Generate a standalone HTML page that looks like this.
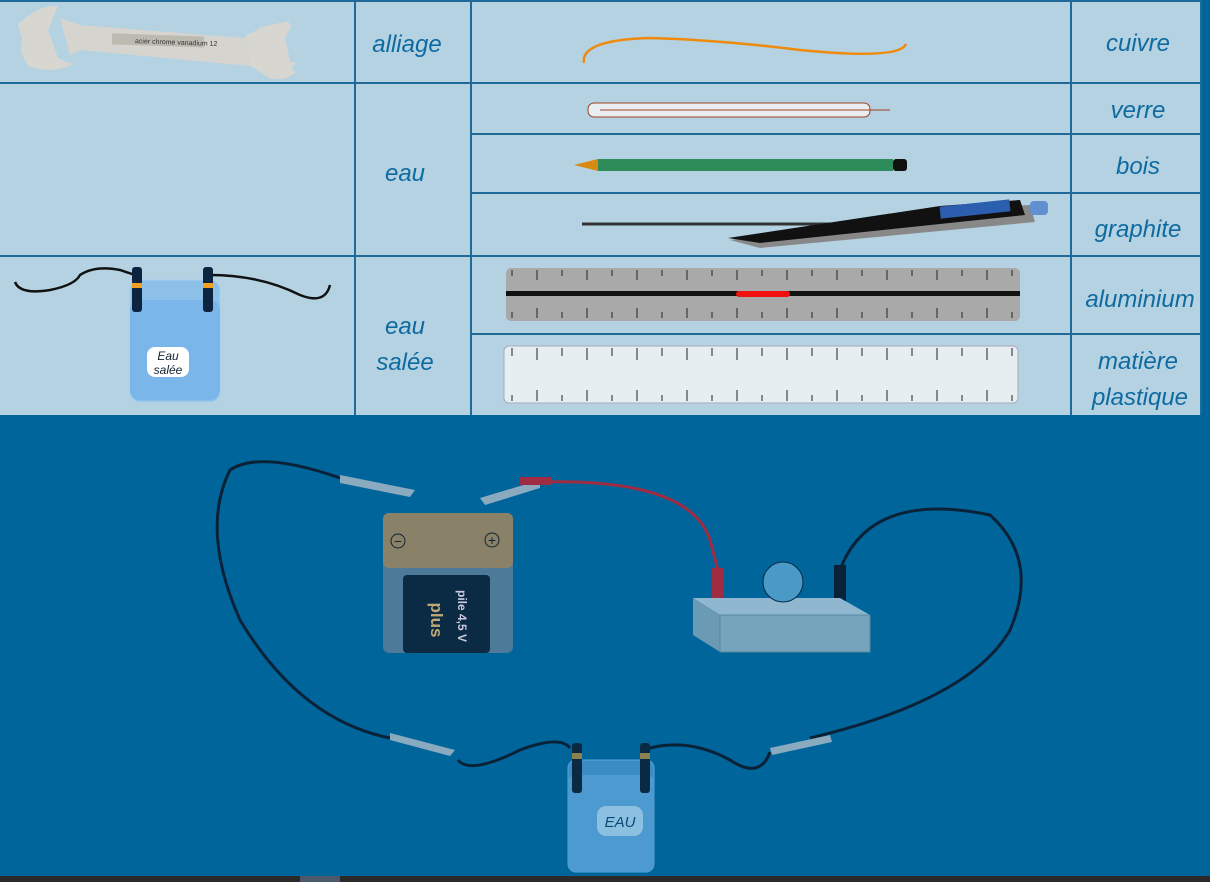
<!DOCTYPE html>
<html><head><meta charset="utf-8"><style>
html,body{margin:0;padding:0;width:1210px;height:882px;overflow:hidden;background:#00659b}
svg{display:block}
.t{font-family:"Liberation Sans",sans-serif;font-style:italic;fill:#0f6aa0;font-size:24px}
</style></head><body>
<svg width="1210" height="882" viewBox="0 0 1210 882">
<rect x="0" y="0" width="1202" height="415" fill="#b4d2e2"/>
<rect x="1202" y="0" width="8" height="415" fill="#00659b"/>
<g stroke="#1f6a98" stroke-width="2" fill="none">
<line x1="0" y1="1" x2="1202" y2="1"/>
<line x1="0" y1="83" x2="1202" y2="83"/>
<line x1="0" y1="256" x2="1202" y2="256"/>
<line x1="471" y1="134" x2="1202" y2="134"/>
<line x1="471" y1="193" x2="1202" y2="193"/>
<line x1="471" y1="334" x2="1202" y2="334"/>
<line x1="355" y1="0" x2="355" y2="415"/>
<line x1="471" y1="0" x2="471" y2="415"/>
<line x1="1071" y1="0" x2="1071" y2="415"/>
<line x1="1201" y1="0" x2="1201" y2="415"/>
</g>
<text class="t" x="407" y="52" text-anchor="middle">alliage</text>
<text class="t" x="405" y="181" text-anchor="middle">eau</text>
<text class="t" x="405" y="334" text-anchor="middle">eau</text>
<text class="t" x="405" y="370" text-anchor="middle">salée</text>
<text class="t" x="1138" y="51" text-anchor="middle">cuivre</text>
<text class="t" x="1138" y="118" text-anchor="middle">verre</text>
<text class="t" x="1138" y="174" text-anchor="middle">bois</text>
<text class="t" x="1138" y="237" text-anchor="middle">graphite</text>
<text class="t" x="1140" y="307" text-anchor="middle">aluminium</text>
<text class="t" x="1138" y="369" text-anchor="middle">matière</text>
<text class="t" x="1140" y="405" text-anchor="middle">plastique</text>
<!-- wrench -->
<path d="M18 24 Q40 4 58 6 L48 30 L58 58 L72 64 Q55 75 28 66 Q18 50 22 40 Z" fill="#d8d6d0"/>
<path d="M60 18 L80 25 L245 38 L250 66 L80 50 L70 55 Z" fill="#d6d4cf"/>
<path d="M245 36 Q275 20 292 25 L285 38 L292 70 L296 72 Q285 82 270 78 L250 66 Z" fill="#d8d6d0"/>
<path d="M258 28 Q290 20 290 22 L268 42 L270 63 L296 62 Q285 82 268 78 Z" fill="#d8d6d0"/>
<rect x="112" y="35" width="92" height="11" fill="#bdbab2" transform="rotate(2 160 40)"/>
<text x="135" y="44" font-family="Liberation Sans" font-size="7" fill="#333" transform="rotate(2 160 40)">acier chrome vanadium  12</text>
<!-- copper wire -->
<path d="M584 63 Q580 40 650 38 Q720 40 800 50 Q900 60 906 44" stroke="#ef8a0c" stroke-width="2.5" fill="none"/>
<!-- thermometer -->
<rect x="588" y="103" width="282" height="14" rx="6" fill="#e8eef2" stroke="#a04020"/>
<line x1="600" y1="110" x2="890" y2="110" stroke="#a04020"/>
<!-- pencil -->
<polygon points="574,165 598,159 598,171" fill="#d88a10"/>
<rect x="598" y="159" width="295" height="12" fill="#2e8c5a"/>
<rect x="893" y="159" width="14" height="12" rx="3" fill="#111"/>
<!-- graphite -->
<line x1="582" y1="224" x2="960" y2="224" stroke="#333" stroke-width="3"/>
<polygon points="730,240 940,210 1030,205 1035,222 760,248" fill="#888"/>
<polygon points="728,238 940,206 1020,200 1025,215 760,243" fill="#111"/>
<rect x="940" y="203" width="70" height="12" fill="#2c5eb0" transform="rotate(-6 975 209)"/>
<rect x="1030" y="201" width="18" height="14" rx="4" fill="#6090d0"/>
<!-- aluminium ruler -->
<rect x="506" y="268" width="514" height="53" rx="5" fill="#a9a9a9"/>
<rect x="506" y="291" width="514" height="5" fill="#111"/>
<rect x="736" y="291" width="54" height="6" rx="3" fill="#f01010"/>
<g stroke="#222" stroke-width="1">
<path d="M512 270 V276 M537 270 V280 M562 270 V276 M587 270 V280 M612 270 V276 M637 270 V280 M662 270 V276 M687 270 V280 M712 270 V276 M737 270 V280 M762 270 V276 M787 270 V280 M812 270 V276 M837 270 V280 M862 270 V276 M887 270 V280 M912 270 V276 M937 270 V280 M962 270 V276 M987 270 V280 M1012 270 V276"/>
<path d="M512 318 V312 M537 318 V308 M562 318 V312 M587 318 V308 M612 318 V312 M637 318 V308 M662 318 V312 M687 318 V308 M712 318 V312 M737 318 V308 M762 318 V312 M787 318 V308 M812 318 V312 M837 318 V308 M862 318 V312 M887 318 V308 M912 318 V312 M937 318 V308 M962 318 V312 M987 318 V308 M1012 318 V312"/>
</g>
<!-- plastic ruler -->
<rect x="504" y="346" width="514" height="57" rx="5" fill="#e6eef2" stroke="#aab"/>
<g stroke="#222" stroke-width="1">
<path d="M512 348 V356 M537 348 V360 M562 348 V356 M587 348 V360 M612 348 V356 M637 348 V360 M662 348 V356 M687 348 V360 M712 348 V356 M737 348 V360 M762 348 V356 M787 348 V360 M812 348 V356 M837 348 V360 M862 348 V356 M887 348 V360 M912 348 V356 M937 348 V360 M962 348 V356 M987 348 V360 M1012 348 V356"/>
<path d="M512 401 V395 M537 401 V390 M562 401 V395 M587 401 V390 M612 401 V395 M637 401 V390 M662 401 V395 M687 401 V390 M712 401 V395 M737 401 V390 M762 401 V395 M787 401 V390 M812 401 V395 M837 401 V390 M862 401 V395 M887 401 V390 M912 401 V395 M937 401 V390 M962 401 V395 M987 401 V390 M1012 401 V395"/>
</g>
<!-- beaker top -->
<path d="M15 282 Q20 295 50 290 Q75 285 80 275 Q95 265 120 270 L135 275" stroke="#111" stroke-width="2.5" fill="none"/>
<path d="M210 275 Q260 275 300 295 Q325 305 330 285" stroke="#111" stroke-width="2.5" fill="none"/>
<rect x="130" y="280" width="90" height="122" rx="10" fill="#8cc0e8" stroke="#a8d0f0"/>
<rect x="130" y="300" width="90" height="100" rx="10" fill="#7ab6ea"/>
<rect x="132" y="267" width="10" height="45" rx="3" fill="#0c2440"/>
<rect x="203" y="267" width="10" height="45" rx="3" fill="#0c2440"/>
<rect x="132" y="283" width="10" height="5" fill="#f0a020"/>
<rect x="203" y="283" width="10" height="5" fill="#f0a020"/>
<rect x="147" y="347" width="42" height="30" rx="8" fill="#fff"/>
<text x="168" y="360" text-anchor="middle" font-family="Liberation Sans" font-style="italic" font-size="12" fill="#123">Eau</text>
<text x="168" y="374" text-anchor="middle" font-family="Liberation Sans" font-style="italic" font-size="12" fill="#123">salée</text>
<!-- bottom circuit -->
<g fill="none" stroke="#0a2238" stroke-width="3">
<path d="M340 478 Q260 450 230 470 Q200 530 240 620 Q300 720 390 738"/>
<path d="M458 760 Q470 775 520 750 Q560 735 570 748"/>
<path d="M650 748 Q690 738 730 760 Q760 780 770 752"/>
<path d="M810 738 Q970 700 1010 630 Q1040 560 990 515 Q870 490 840 570"/>
</g>
<path d="M540 482 Q690 478 710 540 Q718 570 718 570" fill="none" stroke="#a02c44" stroke-width="3"/>
<g fill="#8aaac0"><polygon points="340,475 415,490 410,497 340,483"/><polygon points="480,498 540,480 540,488 485,505"/>
<polygon points="390,733 455,750 450,756 390,740"/><polygon points="770,748 830,735 832,742 772,755"/></g>
<rect x="520" y="477" width="32" height="8" fill="#a02c44"/>
<rect x="712" y="568" width="12" height="30" fill="#a02c44"/>
<rect x="834" y="565" width="12" height="38" fill="#0a2238"/>
<!-- battery -->
<rect x="383" y="513" width="130" height="140" rx="6" fill="#4c7a98"/>
<rect x="383" y="513" width="130" height="55" rx="6" fill="#8a8268"/>
<rect x="403" y="575" width="87" height="78" rx="4" fill="#0b2a44"/>
<text x="445" y="620" font-family="Liberation Sans" font-weight="bold" font-size="17" fill="#c0a878" transform="rotate(90 438 613)" text-anchor="middle">plus</text>
<text x="458" y="590" font-family="Liberation Sans" font-weight="bold" font-size="12" fill="#ccd" transform="rotate(90 458 590)">pile 4,5 V</text>
<circle cx="398" cy="541" r="7" fill="none" stroke="#123"/><circle cx="492" cy="540" r="7" fill="none" stroke="#123"/>
<text x="398" y="546" font-size="14" fill="#123" text-anchor="middle" font-family="Liberation Sans">−</text>
<text x="492" y="545" font-size="14" fill="#123" text-anchor="middle" font-family="Liberation Sans">+</text>
<!-- lamp box -->
<polygon points="693,598 720,615 870,615 840,598" fill="#8fb8d0"/>
<polygon points="693,598 720,615 720,652 693,635" fill="#6a9ab4"/>
<rect x="720" y="615" width="150" height="37" fill="#76a4bc" stroke="#5888a2"/>
<circle cx="783" cy="582" r="20" fill="#4a9ac8" stroke="#0a2a44"/>
<!-- beaker bottom -->
<rect x="568" y="760" width="86" height="112" rx="8" fill="#3a8cc4" stroke="#5aa4d4"/>
<rect x="568" y="775" width="86" height="97" rx="8" fill="#4c9ad0"/>
<rect x="572" y="743" width="10" height="50" rx="3" fill="#0a2a44"/>
<rect x="640" y="743" width="10" height="50" rx="3" fill="#0a2a44"/>
<rect x="572" y="753" width="10" height="6" fill="#8a8050"/><rect x="640" y="753" width="10" height="6" fill="#8a8050"/>
<rect x="597" y="806" width="46" height="30" rx="9" fill="#8cc0e0"/>
<text x="620" y="827" text-anchor="middle" font-family="Liberation Sans" font-style="italic" font-size="15" fill="#0b4a7a">EAU</text>
<rect x="0" y="876" width="1210" height="6" fill="#2a2a2a"/>
<rect x="300" y="876" width="40" height="6" fill="#4a5a6a"/>
</svg>
</body></html>
